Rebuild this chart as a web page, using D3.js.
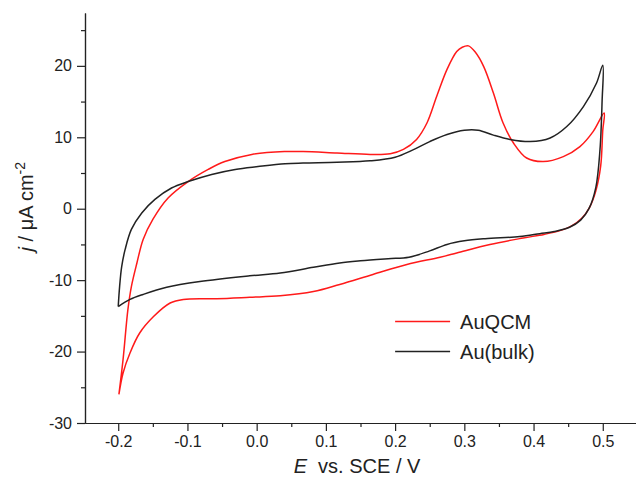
<!DOCTYPE html>
<html>
<head>
<meta charset="utf-8">
<script src="https://cdn.jsdelivr.net/npm/d3@7"></script>
<style>
  body { margin: 0; background: #fff; }
  text { font-family: "Liberation Sans", Arial, sans-serif; fill: #222; }
</style>
</head>
<body>
<div id="wrapper"></div>
<script>
// AuQCM loop: anodic sweep from -0.2 V then back
const auqcmE = [-0.199, -0.193, -0.186, -0.181, -0.173, -0.164, -0.150, -0.128, -0.099, -0.070, -0.046, -0.007,
  0.040, 0.067, 0.116, 0.164, 0.193, 0.212, 0.231, 0.246, 0.260, 0.275, 0.289, 0.297, 0.306, 0.316, 0.328, 0.342,
  0.356, 0.371, 0.390, 0.414, 0.443, 0.467, 0.486, 0.502,
  0.500, 0.497, 0.490, 0.481, 0.470, 0.455, 0.437, 0.415, 0.385, 0.337, 0.289, 0.265, 0.217, 0.168, 0.120,
  0.082, 0.034, -0.010, -0.058, -0.106, -0.125, -0.149, -0.169, -0.183, -0.193, -0.199];
const auqcmJ = [-26.0, -21.1, -14.1, -10.9, -7.6, -4.3, -1.5, 1.5, 3.8, 5.5, 6.6, 7.6,
  8.0, 8.0, 7.8, 7.6, 7.7, 8.3, 9.7, 12.0, 15.7, 19.5, 22.0, 22.6, 22.8, 21.9, 19.9, 16.2,
  12.0, 9.2, 7.1, 6.6, 7.3, 8.7, 10.8, 13.4,
  11.0, 6.0, 2.5, 0.2, -1.3, -2.4, -3.1, -3.6, -4.1, -5.0, -6.2, -6.8, -7.8, -9.2, -10.6,
  -11.6, -12.2, -12.4, -12.6, -12.7, -13.2, -15.1, -17.4, -20.2, -23.0, -26.0];

// Au(bulk) loop
const bulkE = [-0.200, -0.198, -0.195, -0.190, -0.181, -0.166, -0.147, -0.123, -0.099, -0.065, -0.031, 0.002,
  0.041, 0.067, 0.116, 0.164, 0.200, 0.225, 0.250, 0.275, 0.300, 0.320, 0.342, 0.366, 0.395, 0.424, 0.448,
  0.472, 0.491, 0.500,
  0.499, 0.496, 0.490, 0.480, 0.468, 0.452, 0.430, 0.409, 0.380, 0.330, 0.300, 0.275, 0.250, 0.220, 0.190, 0.150, 0.120,
  0.082, 0.034, -0.010, -0.082, -0.130, -0.164, -0.183, -0.200];
const bulkJ = [-13.7, -10.9, -8.1, -5.7, -2.9, -0.6, 1.3, 2.9, 3.8, 4.8, 5.5, 5.9,
  6.3, 6.4, 6.5, 6.7, 7.2, 8.2, 9.4, 10.4, 11.0, 11.0, 10.3, 9.7, 9.4, 9.9, 11.5,
  14.3, 17.6, 20.1,
  15.0, 8.3, 3.0, 0.0, -1.6, -2.6, -3.2, -3.5, -3.9, -4.2, -4.5, -5.0, -5.9, -6.8, -7.0, -7.3, -7.6,
  -8.2, -9.0, -9.4, -10.2, -11.0, -12.0, -12.7, -13.7];

const xTicks = [-0.2, -0.1, 0.0, 0.1, 0.2, 0.3, 0.4, 0.5];
const xMinor = [-0.15, -0.05, 0.05, 0.15, 0.25, 0.35, 0.45];
const yTicks = [-30, -20, -10, 0, 10, 20];
const yMinor = [-25, -15, -5, 5, 15, 25];
const seriesNames = ["AuQCM", "Au(bulk)"];
const seriesColors = ["#ff1a1a", "#222222"];

const dimension = {
  width: 636,
  height: 480,
  margin: { top: 13, left: 85, bottom: 57, right: 0 }
};
dimension.boundedWidth = dimension.width - dimension.margin.left - dimension.margin.right;
dimension.boundedHeight = dimension.height - dimension.margin.top - dimension.margin.bottom;

const svg = d3.select("#wrapper").append("svg")
  .attr("width", dimension.width)
  .attr("height", dimension.height);
const bounded = svg.append("g")
  .attr("transform", `translate(${dimension.margin.left},${dimension.margin.top})`);

const xScaler = d3.scaleLinear().domain([-0.248, 0.548]).range([0, dimension.boundedWidth]);
const yScaler = d3.scaleLinear().domain([-30, 27.4]).range([dimension.boundedHeight, 0]);

// axes (plain hyphen for negatives, like the original)
const xAxis = d3.axisBottom(xScaler).tickValues(xTicks).tickFormat(d => d.toFixed(1))
  .tickSize(8).tickSizeOuter(0).tickPadding(5);
const gx = bounded.append("g").attr("transform", `translate(0,${dimension.boundedHeight})`).call(xAxis);
const gxm = bounded.append("g").attr("transform", `translate(0,${dimension.boundedHeight})`)
  .call(d3.axisBottom(xScaler).tickValues(xMinor).tickFormat("").tickSize(4).tickSizeOuter(0));

const yAxis = d3.axisLeft(yScaler).tickValues(yTicks).tickFormat(d => String(d))
  .tickSize(8).tickSizeOuter(0).tickPadding(5);
const gy = bounded.append("g").call(yAxis);
const gym = bounded.append("g").call(d3.axisLeft(yScaler).tickValues(yMinor).tickFormat("").tickSize(4).tickSizeOuter(0));

[gx, gxm, gy, gym].forEach(g => {
  g.selectAll("path, line").attr("stroke", "#222").attr("stroke-width", 1.2);
  g.selectAll("text").style("font-size", "16px").attr("fill", "#222");
});

// curves
const loops = [
  auqcmE.map((e, i) => [e, auqcmJ[i]]),
  bulkE.map((e, i) => [e, bulkJ[i]])
];
const lineGenerator = d3.line()
  .x(d => xScaler(d[0]))
  .y(d => yScaler(d[1]))
  .curve(d3.curveCatmullRom.alpha(0.5));

loops.forEach((pts, i) => {
  bounded.append("path")
    .attr("d", lineGenerator(pts))
    .attr("fill", "none")
    .attr("stroke", seriesColors[i])
    .attr("stroke-width", 1.5)
    .attr("stroke-linejoin", "round");
});

// legend
const legend = bounded.append("g").attr("transform", `translate(${xScaler(0.20)},${yScaler(-15.8)})`);
seriesNames.forEach((name, i) => {
  const row = legend.append("g").attr("transform", `translate(0,${i * 30})`);
  row.append("line").attr("x1", 0).attr("x2", 55).attr("y1", 0).attr("y2", 0)
    .attr("stroke", seriesColors[i]).attr("stroke-width", 1.5);
  row.append("text").attr("x", 65).attr("y", 7).style("font-size", "20px").text(name);
});

// axis titles
svg.append("text")
  .attr("x", 357)
  .attr("y", 473)
  .attr("text-anchor", "middle")
  .attr("xml:space", "preserve")
  .style("font-size", "20px")
  .html('<tspan font-style="italic">E</tspan>  vs. SCE / V');

svg.append("text")
  .attr("transform", `translate(33,${yScaler(0) + dimension.margin.top - 2}) rotate(-90)`)
  .attr("text-anchor", "middle")
  .style("font-size", "20px")
  .html('<tspan font-style="italic">j</tspan> / μA cm<tspan dy="-8" font-size="14px">-2</tspan>');
</script>
</body>
</html>
